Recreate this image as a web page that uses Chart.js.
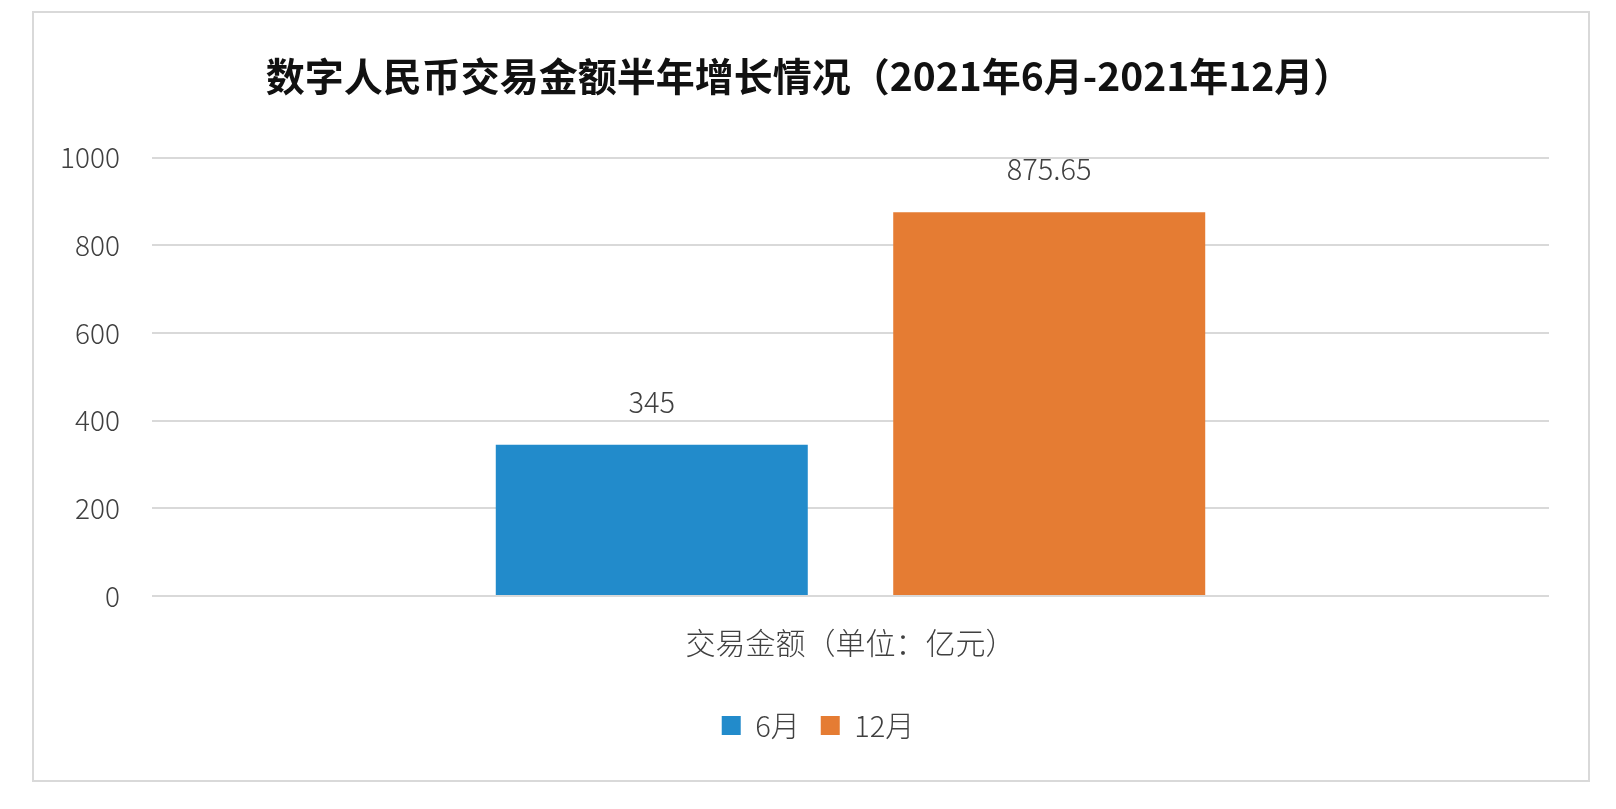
<!DOCTYPE html>
<html>
<head>
<meta charset="utf-8">
<script src="https://cdn.jsdelivr.net/npm/chart.js@4"></script>
<style>
  html, body { margin: 0; padding: 0; background: #fff; }
  #box {
    position: absolute; left: 32px; top: 11px;
    width: 1558px; height: 771px;
    box-sizing: border-box; border: 2px solid #d9d9d9;
  }
  #myChart { display: block; }
</style>
</head>
<body>
<div id="box"><canvas id="myChart" width="1554" height="767"></canvas></div>
<script>
const categories = ['交易金额（单位：亿元）'];
const seriesNames = ['6月', '12月'];
const june = [345];
const december = [875.65];
const yTicks = [0, 200, 400, 600, 800, 1000];

const FONT = '"Noto Sans CJK SC", "Noto Sans", sans-serif';

// draws the value above every bar, using the bar elements chart.js laid out
const valueLabels = {
  id: 'valueLabels',
  afterDatasetsDraw(chart) {
    const ctx = chart.ctx;
    ctx.save();
    ctx.font = '300 29px ' + FONT;
    ctx.fillStyle = '#404040';
    ctx.textAlign = 'center';
    ctx.textBaseline = 'middle';
    chart.data.datasets.forEach((ds, i) => {
      chart.getDatasetMeta(i).data.forEach((bar, j) => {
        ctx.fillText(String(ds.data[j]), bar.x, bar.y - 43);
      });
    });
    ctx.restore();
  }
};

// nudge title and legend sideways, like the original layout
const nudge = {
  id: 'nudge',
  afterLayout(chart) {
    if (chart.titleBlock) { chart.titleBlock.left += 10; chart.titleBlock.right += 10; }
    if (chart.legend) { chart.legend.left += 19; chart.legend.right += 19; }
  }
};

const ctx = document.getElementById('myChart').getContext('2d');
var graphData = {
  type: 'bar',
  data: {
    labels: categories,
    datasets: [{
      label: seriesNames[0],
      data: june,
      backgroundColor: '#228BCB'
    }, {
      label: seriesNames[1],
      data: december,
      backgroundColor: '#E57C33'
    }]
  },
  options: {
    responsive: false,
    animation: false,
    categoryPercentage: 0.569,
    barPercentage: 0.785,
    layout: { padding: { left: 15, right: 39, top: 0, bottom: 30 } },
    plugins: {
      title: {
        display: true,
        text: '数字人民币交易金额半年增长情况（2021年6月-2021年12月）',
        color: '#111',
        font: { family: FONT, size: 39, weight: 'bold' },
        padding: { top: 40, bottom: 58 }
      },
      legend: {
        position: 'bottom',
        labels: {
          boxWidth: 19,
          boxHeight: 19,
          padding: 21,
          color: '#404040',
          font: { family: FONT, size: 29, weight: '300' }
        }
      },
      tooltip: { enabled: false }
    },
    scales: {
      x: {
        grid: { display: false },
        border: { display: false },
        afterFit(scale) { scale.height += 8; },
        ticks: {
          padding: 21,
          color: '#404040',
          font: { family: FONT, size: 30, weight: '300' }
        }
      },
      y: {
        min: 0,
        max: 1000,
        afterBuildTicks(scale) { scale.ticks = yTicks.map(v => ({ value: v })); },
        afterFit(scale) { scale.width = 103; },
        border: { display: false },
        grid: { color: '#d9d9d9', lineWidth: 2, drawTicks: false },
        ticks: {
          padding: 32,
          color: '#404040',
          font: { family: FONT, size: 28, weight: '300' },
          callback: v => String(v)
        }
      }
    }
  },
  plugins: [valueLabels, nudge]
};
const myChart = new Chart(ctx, graphData);
</script>
</body>
</html>
